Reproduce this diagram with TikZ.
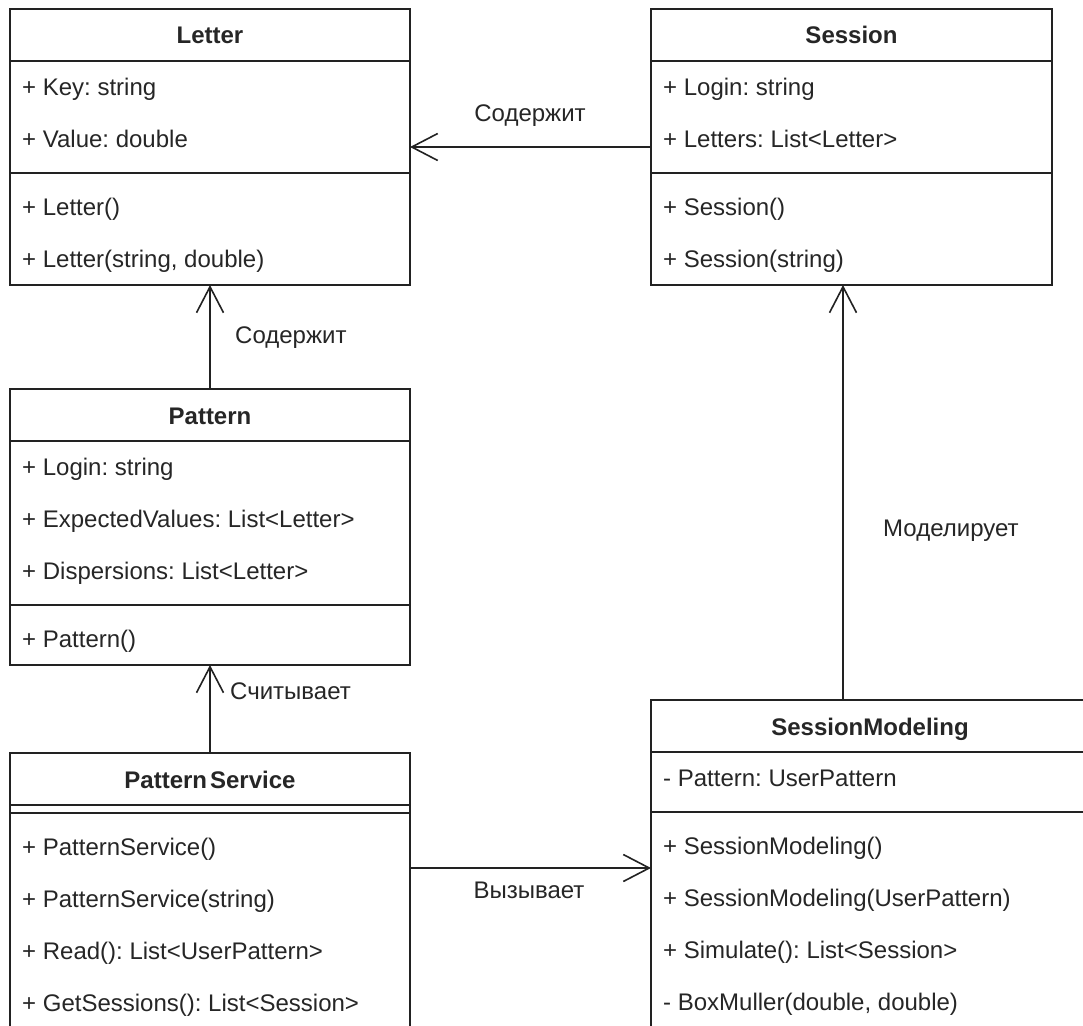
\documentclass[tikz,border=0pt]{standalone}
\usepackage{fontspec}
\setmainfont{Liberation Sans}
\usetikzlibrary{arrows.meta}
\definecolor{ink}{RGB}{34,34,34}
\definecolor{txt}{RGB}{38,38,38}
\frenchspacing

\begin{document}
\begin{tikzpicture}[x=1pt,y=-1pt,
  classbox/.style={draw=ink, line width=1.6pt, rectangle, inner sep=0pt, outer sep=0pt, anchor=north west},
  divider/.style={draw=ink, line width=1.6pt},
  member/.style={anchor=west, inner sep=0pt, text height=17pt, text depth=5pt, text=txt, font=\fontsize{24pt}{28pt}\selectfont},
  classtitle/.style={member, anchor=center, font=\fontsize{24pt}{28pt}\selectfont\bfseries},
  edgelabel/.style={member, anchor=center},
  assoc/.style={draw=ink, line width=1.6pt, -{Straight Barb[length=26pt,width=27pt]}},
]
\clip (0,0) rectangle (1083,1025);
\fill[white] (0,0) rectangle (1083,1025);

% ---- Letter ----
\node[classbox, minimum width=400pt, minimum height=276pt] (letter) at (10,9) {};
\draw[divider] ([yshift=-52pt]letter.north west) -- ([yshift=-52pt]letter.north east);
\draw[divider] ([yshift=-164pt]letter.north west) -- ([yshift=-164pt]letter.north east);
\node[classtitle] (letter-t) at (210,38) {Letter};
\node[member] (letter-a1) at (22,89) {+ Key: string};
\node[member] (letter-a2) at (22,141) {+ Value: double};
\node[member] (letter-m1) at (22,209) {+ Letter()};
\node[member] (letter-m2) at (22,261) {+ Letter(string, double)};

% ---- Session ----
\node[classbox, minimum width=401pt, minimum height=276pt] (session) at (651,9) {};
\draw[divider] ([yshift=-52pt]session.north west) -- ([yshift=-52pt]session.north east);
\draw[divider] ([yshift=-164pt]session.north west) -- ([yshift=-164pt]session.north east);
\node[classtitle] (session-t) at (851.5,38) {Session};
\node[member] (session-a1) at (663,89) {+ Login: string};
\node[member] (session-a2) at (663,141) {+ Letters: List<Letter>};
\node[member] (session-m1) at (663,209) {+ Session()};
\node[member] (session-m2) at (663,261) {+ Session(string)};

% ---- Pattern ----
\node[classbox, minimum width=400pt, minimum height=276pt] (pattern) at (10,389) {};
\draw[divider] ([yshift=-52pt]pattern.north west) -- ([yshift=-52pt]pattern.north east);
\draw[divider] ([yshift=-216pt]pattern.north west) -- ([yshift=-216pt]pattern.north east);
\node[classtitle] (pattern-t) at (210,418) {Pattern};
\node[member] (pattern-a1) at (22,469) {+ Login: string};
\node[member] (pattern-a2) at (22,521) {+ ExpectedValues: List<Letter>};
\node[member] (pattern-a3) at (22,573) {+ Dispersions: List<Letter>};
\node[member] (pattern-m1) at (22,641) {+ Pattern()};

% ---- PatternService ----
\node[classbox, minimum width=400pt, minimum height=276pt] (pservice) at (10,753) {};
\draw[divider] ([yshift=-52pt]pservice.north west) -- ([yshift=-52pt]pservice.north east);
\draw[divider] ([yshift=-60pt]pservice.north west) -- ([yshift=-60pt]pservice.north east);
\node[classtitle] (pservice-t) at (210,782) {Pattern\kern3pt Service};
\node[member] (pservice-m1) at (22,849) {+ PatternService()};
\node[member] (pservice-m2) at (22,901) {+ PatternService(string)};
\node[member] (pservice-m3) at (22,953) {+ Read(): List<UserPattern>};
\node[member] (pservice-m4) at (22,1005) {+ GetSessions(): List<Session>};

% ---- SessionModeling ----
\node[classbox, minimum width=438pt, minimum height=328pt] (smod) at (651,700) {};
\draw[divider] ([yshift=-52pt]smod.north west) -- ([yshift=-52pt]smod.north east);
\draw[divider] ([yshift=-112pt]smod.north west) -- ([yshift=-112pt]smod.north east);
\node[classtitle] (smod-t) at (870,729) {SessionModeling};
\node[member] (smod-a1) at (663,780) {- Pattern: UserPattern};
\node[member] (smod-m1) at (663,848) {+ SessionModeling()};
\node[member] (smod-m2) at (663,900) {+ SessionModeling(UserPattern)};
\node[member] (smod-m3) at (663,952) {+ Simulate(): List<Session>};
\node[member] (smod-m4) at (663,1004) {- BoxMuller(double, double)};

% ---- associations ----
\coordinate (callrow) at (0,868);
\coordinate (modcol) at (843,0);
\draw[assoc] (session.west) -- (letter.east);
\draw[assoc] (pattern.north) -- (letter.south);
\draw[assoc] (pservice.north) -- (pattern.south);
\draw[assoc] (pservice.east |- callrow) -- (smod.west |- callrow);
\draw[assoc] (smod.north -| modcol) -- (session.south -| modcol);

\node[edgelabel] (lbl-contains1) at (530,115) {Содержит};
\node[edgelabel, anchor=west] (lbl-contains2) at (235,337) {Содержит};
\node[edgelabel, anchor=west] (lbl-reads) at (230,693) {Считывает};
\node[edgelabel, anchor=west] (lbl-models) at (883,530) {Моделирует};
\node[edgelabel] (lbl-calls) at (529,892) {Вызывает};
\end{tikzpicture}
\end{document}
